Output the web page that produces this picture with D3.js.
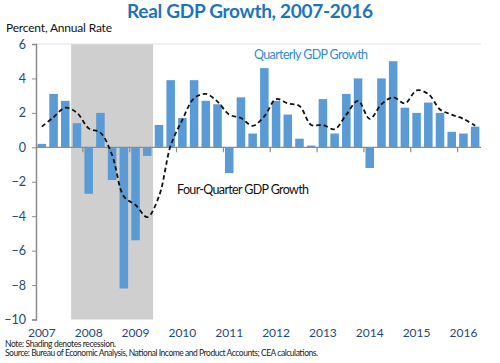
<!DOCTYPE html>
<html>
<head>
<meta charset="utf-8">
<script src="https://cdn.jsdelivr.net/npm/d3@7"></script>
<style>
  html, body { margin: 0; padding: 0; background: #fff; }
  svg { display: block; font-family: Lato, "Open Sans", sans-serif; }
</style>
</head>
<body>
<div id="chart-container"></div>
<script>
// quarters 2007Q1 .. 2016Q2
const quarters = [
  '2007Q1', '2007Q2', '2007Q3', '2007Q4',
  '2008Q1', '2008Q2', '2008Q3', '2008Q4',
  '2009Q1', '2009Q2', '2009Q3', '2009Q4',
  '2010Q1', '2010Q2', '2010Q3', '2010Q4',
  '2011Q1', '2011Q2', '2011Q3', '2011Q4',
  '2012Q1', '2012Q2', '2012Q3', '2012Q4',
  '2013Q1', '2013Q2', '2013Q3', '2013Q4',
  '2014Q1', '2014Q2', '2014Q3', '2014Q4',
  '2015Q1', '2015Q2', '2015Q3', '2015Q4',
  '2016Q1', '2016Q2',
];

// quarterly GDP growth, percent annual rate
const quarterly = [
  0.2, 3.1, 2.7, 1.4,
  -2.7, 2.0, -1.9, -8.2,
  -5.4, -0.5, 1.3, 3.9,
  1.7, 3.9, 2.7, 2.5,
  -1.5, 2.9, 0.8, 4.6,
  2.7, 1.9, 0.5, 0.1,
  2.8, 0.8, 3.1, 4.0,
  -1.2, 4.0, 5.0, 2.3,
  2.0, 2.6, 2.0, 0.9,
  0.8, 1.2,
];

// four-quarter GDP growth
const fourQuarter = [
  1.2, 1.75, 2.3, 2.0,
  1.1, 0.85, -0.45, -2.85,
  -3.35, -4.05, -2.85, 0.1,
  1.6, 2.85, 3.1, 2.65,
  1.9, 1.7, 1.25, 1.8,
  2.8, 2.55, 2.4, 1.3,
  1.3, 1.05, 1.9, 2.7,
  1.65, 2.5, 2.9, 2.55,
  3.3, 3.1, 2.2, 1.9,
  1.65, 1.25,
];

const yTicks = [-10, -8, -6, -4, -2, 0, 2, 4, 6];
const yearLabels = ['2007', '2008', '2009', '2010', '2011', '2012', '2013', '2014', '2015', '2016'];
const recession = ['2007Q4', '2009Q2'];

const width = 500;
const height = 363;
const plot = {left: 36, right: 481, top: 44, bottom: 319.5};

const svg = d3.select('#chart-container')
    .append('svg')
    .attr('width', width)
    .attr('height', height);

const x = d3.scaleBand()
    .domain(quarters)
    .range([plot.left, plot.right])
    .paddingInner(0.27)
    .paddingOuter(0.135);

const y = d3.scaleLinear()
    .domain([-10, 6])
    .range([plot.bottom, plot.top]);

// category boundary helper
const step = x.step();
const catStart = (q) => x(q) - step * 0.135;

// recession shading
svg.append('rect')
    .attr('x', catStart(recession[0]))
    .attr('y', y(6))
    .attr('width', catStart(recession[1]) + step - catStart(recession[0]))
    .attr('height', y(-10) - y(6))
    .attr('fill', '#d0cfcf');

// faint top border line
svg.append('line')
    .attr('x1', plot.left).attr('x2', plot.right)
    .attr('y1', y(6)).attr('y2', y(6))
    .attr('stroke', '#e3e3e3')
    .attr('stroke-width', 1);

// bars
svg.append('g')
    .selectAll('rect')
    .data(quarters)
    .join('rect')
    .attr('x', (d) => x(d))
    .attr('width', x.bandwidth())
    .attr('y', (d, i) => y(Math.max(0, quarterly[i])))
    .attr('height', (d, i) => Math.abs(y(quarterly[i]) - y(0)))
    .attr('fill', '#5b9bd5');

// zero line with year ticks
svg.append('line')
    .attr('x1', plot.left).attr('x2', plot.right)
    .attr('y1', y(0)).attr('y2', y(0))
    .attr('stroke', '#8c8c8c')
    .attr('stroke-width', 1.3);

const firstQ = quarters.filter((q) => q.endsWith('Q1') && q !== '2007Q1');
svg.append('g')
    .selectAll('line')
    .data(firstQ)
    .join('line')
    .attr('x1', (d) => catStart(d))
    .attr('x2', (d) => catStart(d))
    .attr('y1', y(0))
    .attr('y2', y(0) + 5)
    .attr('stroke', '#8c8c8c')
    .attr('stroke-width', 1.2);

// y axis
const yAxis = svg.append('g')
    .attr('transform', `translate(${plot.left},0)`)
    .call(d3.axisLeft(y).tickValues(yTicks).tickSize(4).tickPadding(6));
yAxis.select('.domain').attr('stroke', '#8c8c8c').attr('stroke-width', 1.5);
yAxis.selectAll('.tick line').attr('stroke', '#8c8c8c');
yAxis.selectAll('.tick text')
    .attr('font-family', 'Lato, sans-serif')
    .attr('font-size', 12.5)
    .attr('fill', '#1f497d');

// x labels (year at Q1 of each year)
svg.append('g')
    .selectAll('text')
    .data(yearLabels)
    .join('text')
    .attr('x', (d) => x(d + 'Q1') + x.bandwidth() / 2)
    .attr('y', 337)
    .attr('text-anchor', 'middle')
    .attr('font-size', 12)
    .attr('fill', '#1f497d')
    .text((d) => d);

// four-quarter line
const line = d3.line()
    .x((d, i) => x(quarters[i]) + x.bandwidth() / 2)
    .y((d) => y(d))
    .curve(d3.curveCatmullRom.alpha(0.5));

svg.append('path')
    .datum(fourQuarter)
    .attr('d', line)
    .attr('fill', 'none')
    .attr('stroke', '#111')
    .attr('stroke-width', 1.8)
    .attr('stroke-dasharray', '4.5,3');

// titles and annotations
svg.append('text')
    .attr('x', 250).attr('y', 18)
    .attr('text-anchor', 'middle')
    .attr('font-size', 19)
    .attr('font-weight', 'bold')
    .attr('fill', '#1c75bc')
    .attr('textLength', 246)
    .text('Real GDP Growth, 2007-2016');

svg.append('text')
    .attr('x', 6).attr('y', 32)
    .attr('font-size', 12)
    .attr('fill', '#111')
    .attr('textLength', 106)
    .text('Percent, Annual Rate');

svg.append('text')
    .attr('x', 254).attr('y', 59)
    .attr('font-size', 12.5)
    .attr('fill', '#2f8bd6')
    .attr('textLength', 114)
    .text('Quarterly GDP Growth');

svg.append('text')
    .attr('x', 177).attr('y', 194)
    .attr('font-size', 12.5)
    .attr('fill', '#111')
    .attr('textLength', 132)
    .text('Four-Quarter GDP Growth');

svg.append('text')
    .attr('x', 5).attr('y', 346.5)
    .attr('font-size', 8.5)
    .attr('fill', '#222')
    .attr('textLength', 111)
    .text('Note: Shading denotes recession.');

svg.append('text')
    .attr('x', 5).attr('y', 356)
    .attr('font-size', 8.5)
    .attr('fill', '#222')
    .attr('textLength', 313)
    .text('Source: Bureau of Economic Analysis, National Income and Product Accounts; CEA calculations.');
</script>
</body>
</html>
